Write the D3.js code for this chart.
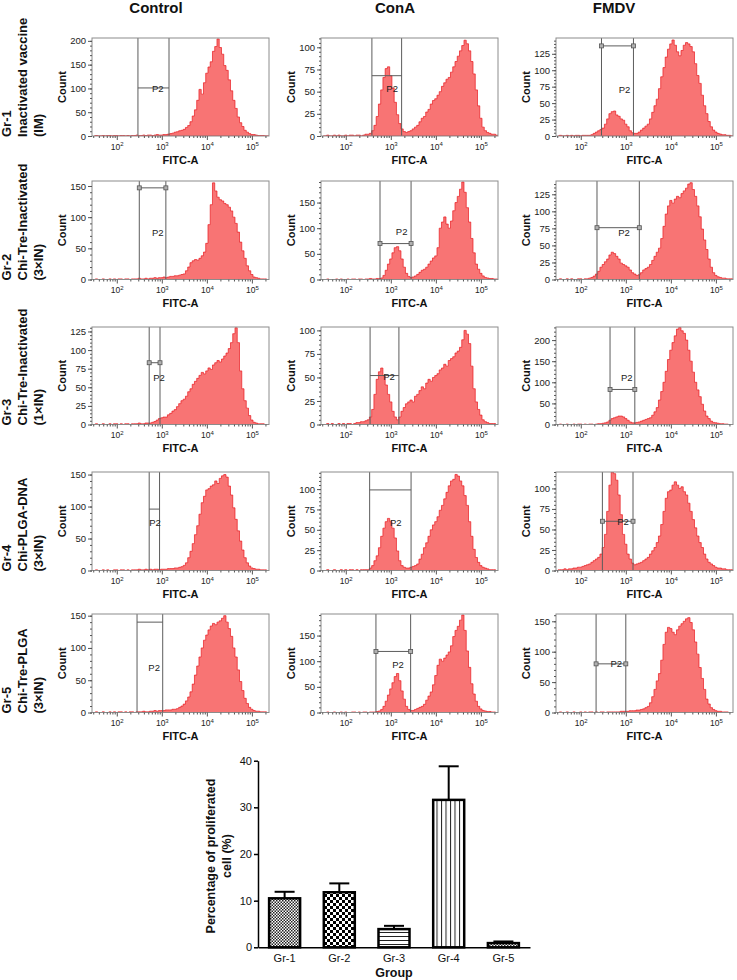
<!DOCTYPE html>
<html><head><meta charset="utf-8">
<script src="https://cdn.jsdelivr.net/npm/d3@7"></script>
<style>body{margin:0;background:#fff} text{font-family:"Liberation Sans",Arial,sans-serif}</style>
</head><body><svg id="c" width="737" height="980"></svg>
<script>
// ---------- DATA ----------
const columns = ["Control", "ConA", "FMDV"];
const rowLabels = [
  ["Gr-1", "Inactivated vaccine", "(IM)"],
  ["Gr-2", "Chi-Tre-Inactivated", "(3\u00d7IN)"],
  ["Gr-3", "Chi-Tre-Inactivated", "(1\u00d7IN)"],
  ["Gr-4", "Chi-PLGA-DNA", "(3\u00d7IN)"],
  ["Gr-5", "Chi-Tre-PLGA", "(3\u00d7IN)"]
];
// histogram bins: log10(FITC-A) from 1.50 in steps of 0.05 (79 bins)
const binStart = 1.5, binStep = 0.05;
const xTickValues = [1e2, 1e3, 1e4, 1e5];

const h11 = [0,1,0,0,1,0,1,1,0,1, 1,0,1,1,0,1,0,1,1,2, 1,1,2,1,2,2,1,2,3,2,
  2,3,3,4,5,6,8,9,11,12, 14,18,22,30,42,55,75,98,88,112, 132,145,156,178,188,204,186,172,148,138,
  118,95,75,58,40,28,20,12,8,5, 3,3,2,1,1,1,0,0,0];
const h12 = [0,0,1,0,0,1,0,1,0,0, 1,0,1,1,0,1,1,0,1,2, 2,3,6,12,22,36,52,66,76,78,
  68,54,38,24,14,8,5,4,5,6, 8,10,12,16,20,22,27,30,36,40, 42,46,50,56,60,64,66,72,78,84,
  90,96,102,108,104,96,84,70,52,34, 20,10,6,4,3,2,2,1,1];
const h13 = [0,1,0,0,1,0,1,0,1,1, 0,1,1,1,1,2,4,6,8,10, 12,18,26,34,37,38,32,30,26,24,
  18,14,8,5,4,4,6,9,12,15, 18,26,36,46,56,72,90,104,120,132, 140,146,138,128,122,130,138,142,140,136,
  128,110,92,80,62,46,34,22,14,9, 6,4,3,2,2,1,1,0,0];
const h21 = [0,1,0,0,1,0,0,1,0,1, 0,1,1,0,1,1,0,1,1,1, 2,1,1,2,1,2,2,3,2,3,
  3,4,3,4,5,5,6,6,7,8, 9,14,20,27,30,32,31,34,38,44, 58,88,120,155,142,132,128,126,122,120,
  116,110,100,90,76,60,46,34,22,14, 8,4,3,2,1,1,1,0,0];
const h22 = [0,0,1,0,0,0,1,0,1,0, 0,1,0,1,1,0,1,1,0,1, 1,2,1,1,2,2,3,8,18,30,
  40,52,62,64,56,40,24,12,6,4, 5,7,10,14,18,20,24,30,36,42, 46,62,100,112,122,108,100,114,134,150,
  162,176,190,170,140,112,80,52,30,20, 12,7,4,3,2,2,1,1,0];
const h23 = [0,1,0,0,1,0,1,0,0,1, 1,0,1,1,2,3,5,8,12,18, 22,26,30,36,40,38,34,30,24,22,
  20,18,14,10,8,6,7,10,14,16, 18,22,28,34,40,46,60,78,96,108, 116,112,118,122,120,126,130,134,140,142,
  132,122,108,92,74,58,44,30,18,10, 6,4,3,2,2,1,1,1,0];
const h31 = [0,1,0,0,1,0,0,1,0,1, 1,0,1,0,1,1,0,1,1,1, 2,1,1,2,2,2,3,4,6,8,
  9,10,10,13,15,18,20,24,28,32, 34,38,44,48,54,58,62,66,70,68, 72,76,74,80,83,86,84,88,92,96,
  102,110,122,130,110,72,48,32,22,12, 6,3,2,1,1,1,0,0,0];
const h32 = [0,0,1,0,1,0,0,1,0,1, 0,1,1,0,1,2,2,3,3,4, 5,8,16,32,48,56,60,52,42,32,
  24,14,8,5,8,14,18,22,24,26, 24,30,32,36,40,38,44,48,46,50, 52,54,58,60,64,62,68,70,72,76,
  78,82,90,100,96,86,62,38,24,16, 10,5,3,2,1,1,1,0,0];
const h33 = [0,1,0,0,1,0,0,1,0,1, 1,0,1,0,1,1,0,1,2,2, 3,4,6,10,14,16,18,20,20,18,
  14,10,6,4,4,5,6,8,10,12, 14,16,22,30,40,58,78,100,126,154, 176,194,210,226,230,222,216,200,176,150,
  124,100,82,66,48,32,20,14,8,5, 4,3,2,2,1,1,0,0,0];
const h41 = [0,1,0,0,1,0,1,0,0,1, 1,0,1,1,0,1,0,1,1,1, 2,1,1,2,1,2,1,2,2,1,
  2,2,2,3,3,3,4,4,5,6, 8,12,20,30,42,56,70,88,106,116, 126,128,132,134,140,136,144,148,150,146,
  132,118,98,80,62,46,32,20,12,7, 4,3,2,2,1,1,1,0,0];
const h42 = [0,0,1,0,0,1,0,0,1,0, 1,0,1,1,0,1,0,1,1,1, 1,3,6,12,18,28,42,52,60,64,
  60,52,40,24,12,6,4,3,3,4, 5,6,8,14,20,28,34,42,50,56, 60,66,74,80,88,96,104,110,112,118,
  116,110,104,92,80,60,42,26,16,10, 6,4,3,2,1,1,1,0,0];
const h43 = [1,1,1,2,1,2,2,3,3,4, 4,5,6,7,8,10,12,14,16,20, 28,44,72,104,120,118,110,92,68,44,
  32,20,14,9,7,8,9,10,12,14, 16,20,24,28,34,42,56,72,88,96, 98,104,108,104,100,102,96,92,82,72,
  62,52,42,34,28,20,14,10,8,6, 4,3,3,2,2,1,1,1,0];
const h51 = [0,1,0,0,1,0,0,1,0,1, 0,1,1,0,1,0,1,1,0,1, 1,1,2,1,1,2,2,3,2,3,
  3,3,4,4,4,5,5,6,8,10, 13,18,24,32,44,58,72,86,100,112, 120,128,134,138,136,140,142,146,150,140,
  130,118,100,86,66,48,34,22,14,8, 5,3,2,2,1,1,1,0,0];
const h52 = [0,0,1,0,0,1,0,0,1,0, 1,0,0,1,1,0,1,0,1,1, 0,1,1,1,2,3,6,12,22,34,
  46,58,70,76,62,42,26,12,6,4, 4,6,8,10,12,16,24,32,40,54, 72,92,104,100,106,112,118,130,148,160,
  168,180,190,160,120,88,56,36,22,12, 7,4,3,2,2,1,1,0,0];
const h53 = [0,1,0,0,1,0,0,1,0,0, 1,0,1,0,1,1,0,1,0,1, 1,0,1,1,1,1,1,1,2,2,
  2,2,3,3,3,4,4,5,6,8, 10,16,26,38,52,64,86,112,132,140, 138,132,128,136,142,146,150,154,156,148,
  136,116,96,74,56,38,22,14,8,5, 3,2,2,1,1,1,0,0,0];

// per panel (row-major): histogram, y max, y tick step
const histData = [h11,h12,h13, h21,h22,h23, h31,h32,h33, h41,h42,h43, h51,h52,h53];
const yMax  = [206,110.5,149, 158,192,144.5, 131,103.6,231, 154,121,120, 152.6,192,162];
const yStep = [50,25,25, 50,50,25, 25,25,50, 50,25,25, 50,50,50];
// P2 gate: log10 bounds, bar count level, square markers
const gateLo  = [2.47,2.58,2.46, 2.50,2.76,2.36, 2.72,2.54,2.65, 2.72,2.53,2.48, 2.45,2.67,2.34];
const gateHi  = [3.16,3.24,3.17, 3.09,3.45,3.30, 2.96,3.18,3.20, 2.95,3.45,3.16, 3.02,3.44,3.00];
const gateLvl = [101,68,137, 147,70,76, 83,52,83, 96,99,60, 140,119,80];
const gateMark= [0,0,1, 1,1,1, 1,0,1, 0,0,1, 0,1,1];
// P2 label anchor (log10 FITC, count)
const labLog = [2.91,3.03,2.97, 2.91,3.24,2.96, 2.94,2.96,3.02, 2.85,3.11,2.94, 2.83,3.16,2.79];
const labCnt = [99,54,71, 76,93,69, 63,51,112, 75,59,60, 70,94,81];

// bar chart
const groups = ["Gr-1","Gr-2","Gr-3","Gr-4","Gr-5"];
const means  = [10.5, 11.8, 3.9, 31.6, 0.9];
const errs   = [1.4, 1.9, 0.7, 7.2, 0.35];
const barTicks = [0,10,20,30,40];

// ---------- LAYOUT ----------
const svg = d3.select("#c");
const defs = svg.append("defs");
const colLeft = [92, 321, 556], colW = 177;
const rowTop = [38, 181, 327, 472, 614];
const rowBot = [136, 279.5, 424.5, 570.5, 712.5];
const headerX = [156, 395, 614];
const xDomain = [Math.pow(10,1.45), Math.pow(10,5.38)];

columns.forEach((c,i) => svg.append("text").attr("x", headerX[i]).attr("y", 13)
  .attr("text-anchor","middle").attr("font-weight","bold").attr("font-size",15).attr("fill","#111").text(c));

rowLabels.forEach((lines, r) => {
  lines.forEach((t,k) => svg.append("text")
    .attr("transform", `translate(${10.5 + 16.3*k},${rowBot[r]+1}) rotate(-90)`)
    .attr("font-weight","bold").attr("font-size",13).attr("fill","#111").text(t));
});

const minorX = [];
for (let e = 1; e <= 5; e++) for (let m = 2; m <= 9; m++) {
  const v = m*Math.pow(10,e); if (v > xDomain[0] && v < xDomain[1]) minorX.push(v);
}

histData.forEach((data, idx) => {
  const r = Math.floor(idx/3), c = idx % 3;
  const left = colLeft[c], top = rowTop[r], bottom = rowBot[r];
  const x = d3.scaleLog().domain(xDomain).range([left, left+colW]);
  const y = d3.scaleLinear().domain([0, yMax[idx]]).range([bottom, top]);
  const g = svg.append("g");
  const cid = "clip" + idx;
  defs.append("clipPath").attr("id", cid).append("rect")
    .attr("x", left).attr("y", top).attr("width", colW).attr("height", bottom-top);

  const area = d3.area()
    .x((d,i) => x(Math.pow(10, binStart + i*binStep)))
    .y0(y(0)).y1(d => y(d)).curve(d3.curveStep);
  g.append("path").datum(data).attr("clip-path", `url(#${cid})`).attr("d", area)
    .attr("fill","#f87474").attr("stroke","#e81a1f").attr("stroke-width",0.7);

  // gate
  const gx1 = x(Math.pow(10, gateLo[idx])), gx2 = x(Math.pow(10, gateHi[idx])), gy = y(gateLvl[idx]);
  const gg = g.append("g").attr("stroke","#5c5c5c").attr("stroke-width",1);
  gg.append("line").attr("x1",gx1).attr("x2",gx1).attr("y1",top).attr("y2",bottom);
  gg.append("line").attr("x1",gx2).attr("x2",gx2).attr("y1",top).attr("y2",bottom);
  gg.append("line").attr("x1",gx1).attr("x2",gx2).attr("y1",gy).attr("y2",gy);
  if (gateMark[idx]) [gx1,gx2].forEach(px => gg.append("rect")
      .attr("x",px-2).attr("y",gy-2).attr("width",4).attr("height",4)
      .attr("fill","#b0b0b0").attr("stroke","#555").attr("stroke-width",0.8));
  g.append("text").attr("x", x(Math.pow(10, labLog[idx]))).attr("y", y(labCnt[idx]))
    .attr("text-anchor","middle").attr("dominant-baseline","central")
    .attr("font-size",9.5).attr("fill","#222").text("P2");

  // box
  g.append("rect").attr("x",left).attr("y",top).attr("width",colW).attr("height",bottom-top)
    .attr("fill","none").attr("stroke","#8c8c8c").attr("stroke-width",1);

  // x axis
  const xa = g.append("g").attr("transform",`translate(0,${bottom})`)
    .call(d3.axisBottom(x).tickValues(xTickValues).tickSize(4).tickFormat(() => ""));
  xa.selectAll(".tick text").attr("font-size",8.5).attr("fill","#222").attr("y",13.5).attr("dy",0)
    .each(function(d) {
      const t = d3.select(this);
      t.append("tspan").text("10");
      t.append("tspan").attr("dy",-3.5).attr("font-size",6).text(Math.round(Math.log10(d)));
    });
  const xm = g.append("g").attr("transform",`translate(0,${bottom})`)
    .call(d3.axisBottom(x).tickValues(minorX).tickSize(2).tickFormat(""));
  [xa, xm].forEach(a => { a.select(".domain").remove(); a.selectAll("line").attr("stroke","#555"); });

  // y axis
  const ya = g.append("g").attr("transform",`translate(${left},0)`)
    .call(d3.axisLeft(y).tickValues(d3.range(0, yMax[idx]+0.001, yStep[idx])).tickSize(4).tickPadding(2));
  ya.selectAll("text").attr("font-size",9.5).attr("fill","#222").attr("font-family","Liberation Sans, Arial, sans-serif");
  const ym = g.append("g").attr("transform",`translate(${left},0)`)
    .call(d3.axisLeft(y).tickValues(d3.range(0, yMax[idx]+0.001, yStep[idx]/5)).tickSize(2).tickFormat(""));
  [ya, ym].forEach(a => { a.select(".domain").remove(); a.selectAll("line").attr("stroke","#555"); });

  g.append("text").attr("transform",`translate(${left-26},${(top+bottom)/2}) rotate(-90)`)
    .attr("text-anchor","middle").attr("font-weight","bold").attr("font-size",11).attr("fill","#111").text("Count");
  g.append("text").attr("x", left+colW/2).attr("y", bottom+27.5)
    .attr("text-anchor","middle").attr("font-weight","bold").attr("font-size",11).attr("fill","#111").text("FITC-A");
});

// ---------- BAR CHART ----------
function pat(id, w, h, draw) {
  const p = defs.append("pattern").attr("id", id).attr("patternUnits","userSpaceOnUse")
    .attr("width", w).attr("height", h);
  p.append("rect").attr("width", w).attr("height", h).attr("fill", "#fff");
  draw(p);
}
pat("p1", 3, 3, p => { p.append("rect").attr("width",1.5).attr("height",1.5).attr("fill","#222");
  p.append("rect").attr("x",1.5).attr("y",1.5).attr("width",1.5).attr("height",1.5).attr("fill","#222"); });
pat("p2", 6, 6, p => { p.append("rect").attr("width",3).attr("height",3).attr("fill","#000");
  p.append("rect").attr("x",3).attr("y",3).attr("width",3).attr("height",3).attr("fill","#000"); });
pat("p3", 6, 4, p => p.append("rect").attr("y",0).attr("width",6).attr("height",1).attr("fill","#222"));
pat("p4", 4.5, 6, p => p.append("rect").attr("x",0).attr("width",1).attr("height",6).attr("fill","#222"));
pat("p5", 3, 3, p => { p.append("rect").attr("width",1.5).attr("height",1.5).attr("fill","#333");
  p.append("rect").attr("x",1.5).attr("y",1.5).attr("width",1.5).attr("height",1.5).attr("fill","#333"); });
const patIds = ["p1","p2","p3","p4","p5"];

const bx = d3.scaleBand().domain(groups).range([258, 530]).paddingInner(0.433).paddingOuter(0.203);
const by = d3.scaleLinear().domain([0, 40]).range([947.3, 760.7]);
const bg = svg.append("g");

groups.forEach((gname, i) => {
  const xc = bx(gname) + bx.bandwidth()/2;
  bg.append("line").attr("x1",xc).attr("x2",xc).attr("y1",by(means[i])).attr("y2",by(means[i]+errs[i]))
    .attr("stroke","#000").attr("stroke-width",2);
  bg.append("line").attr("x1",xc-10).attr("x2",xc+10).attr("y1",by(means[i]+errs[i])).attr("y2",by(means[i]+errs[i]))
    .attr("stroke","#000").attr("stroke-width",2);
  bg.append("rect").attr("x",bx(gname)).attr("y",by(means[i])).attr("width",bx.bandwidth())
    .attr("height",by(0)-by(means[i])).attr("fill",`url(#${patIds[i]})`)
    .attr("stroke","#000").attr("stroke-width",2.5);
});

const bya = bg.append("g").attr("transform","translate(258,0)")
  .call(d3.axisLeft(by).tickValues(barTicks).tickSize(4).tickSizeOuter(0).tickPadding(2));
bya.select(".domain").attr("stroke","#000").attr("stroke-width",1.5);
bya.selectAll("line").attr("stroke","#000").attr("stroke-width",1.5);
bya.selectAll("text").attr("font-size",11).attr("fill","#111").attr("font-family","Liberation Sans, Arial, sans-serif");

const bxa = bg.append("g").attr("transform",`translate(0,${by(0)})`)
  .call(d3.axisBottom(bx).tickSize(0).tickSizeOuter(0).tickPadding(7));
bxa.select(".domain").attr("stroke","#000").attr("stroke-width",1.5);
bxa.selectAll("text").attr("font-size",11).attr("fill","#111").attr("font-family","Liberation Sans, Arial, sans-serif");

bg.append("text").attr("x",394).attr("y",977).attr("text-anchor","middle")
  .attr("font-weight","bold").attr("font-size",12.5).attr("fill","#111").text("Group");
bg.append("text").attr("transform","translate(215,856) rotate(-90)").attr("text-anchor","middle")
  .attr("font-weight","bold").attr("font-size",12.5).attr("fill","#111").text("Percentage of proliferated");
bg.append("text").attr("transform","translate(231,856) rotate(-90)").attr("text-anchor","middle")
  .attr("font-weight","bold").attr("font-size",12.5).attr("fill","#111").text("cell (%)");
</script></body></html>
